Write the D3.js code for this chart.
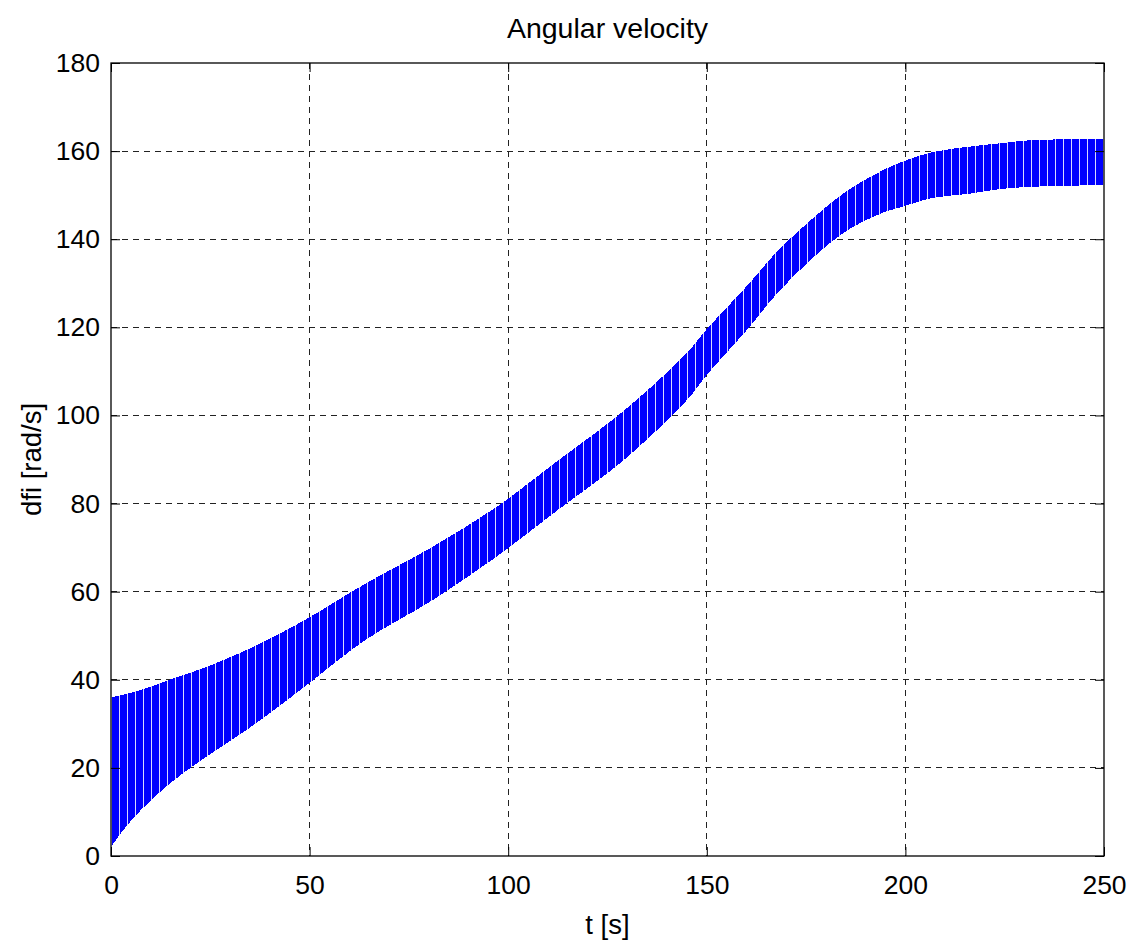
<!DOCTYPE html>
<html>
<head>
<meta charset="utf-8">
<script src="https://cdn.jsdelivr.net/npm/d3@7"></script>
<style>
  body { margin: 0; background: #fff; }
  text { font-family: "Liberation Sans", Arial, sans-serif; fill: #000; }
</style>
</head>
<body>
<svg id="chart" width="1132" height="940"></svg>
<script>
// envelope of the oscillating dfi signal
const time  = [0, 2.5, 7.5, 16, 24, 33, 41, 50, 64, 81, 97, 112, 129, 145, 150, 160, 168, 177, 185, 194, 199, 207, 216, 224, 232, 250]
const upper = [36, 36.5, 37.7, 40.4, 42.9, 46.3, 49.8, 54.2, 61.8, 70.2, 79.2, 89.4, 101, 114.2, 119.6, 129.3, 137.5, 145, 150.8, 155.5, 157.5, 159.8, 161, 161.8, 162.5, 162.7]
const lower = [2, 5.2, 10.4, 17.3, 22.5, 27.9, 33.1, 39.3, 49, 58.1, 67.9, 78.2, 89.8, 103.5, 109.2, 119.3, 128, 136, 141.8, 145.9, 147.3, 149.4, 150.3, 151.4, 151.9, 152.3]

const xTicks = [0, 50, 100, 150, 200, 250]
const yTicks = [0, 20, 40, 60, 80, 100, 120, 140, 160, 180]

const pL = 111, pR = 1104, pT = 63, pB = 856

let svg = d3.select("#chart")

let x = d3.scaleLinear().domain([0, 250]).range([pL, pR])
let y = d3.scaleLinear().domain([0, 180]).range([pB, pT])

// stripes to imitate the dense vertical strokes
let defs = svg.append("defs")
let pat = defs.append("pattern")
    .attr("id", "stripes")
    .attr("patternUnits", "userSpaceOnUse")
    .attr("width", 8).attr("height", 10)
pat.append("rect").attr("width", 8).attr("height", 10).attr("fill", "#0000ff")
pat.append("rect").attr("x", 7).attr("width", 1).attr("height", 10)
    .attr("fill", "#ffffff").attr("opacity", 0.85)

// grid
let grid = svg.append("g").attr("stroke", "#222").attr("stroke-width", 1)
    .attr("stroke-dasharray", "6,5").attr("shape-rendering", "crispEdges")
xTicks.slice(1, -1).forEach(t => {
  grid.append("line").attr("x1", x(t)).attr("x2", x(t)).attr("y1", pT).attr("y2", pB)
})
yTicks.slice(1, -1).forEach(v => {
  grid.append("line").attr("x1", pL).attr("x2", pR).attr("y1", y(v)).attr("y2", y(v))
})

// band
let band = time.map((t, i) => ({t: t, hi: upper[i], lo: lower[i]}))
svg.append("path")
    .datum(band)
    .attr("fill", "url(#stripes)")
    .attr("shape-rendering", "crispEdges")
    .attr("d", d3.area()
        .x(d => x(d.t))
        .y0(d => y(d.lo))
        .y1(d => y(d.hi))
        .curve(d3.curveCatmullRom.alpha(0.5)))

// axes
let fs = "26.5px"
svg.append("g").attr("transform", "translate(0," + pB + ")")
    .call(d3.axisBottom(x).tickValues(xTicks).tickSizeInner(-9).tickSizeOuter(0).tickPadding(19))
svg.append("g").attr("transform", "translate(" + pL + ",0)")
    .call(d3.axisLeft(y).tickValues(yTicks).tickSizeInner(-9).tickSizeOuter(0).tickPadding(11))
svg.append("g").attr("transform", "translate(0," + pT + ")")
    .call(d3.axisTop(x).tickValues(xTicks).tickSizeInner(-9).tickSizeOuter(0).tickFormat(""))
svg.append("g").attr("transform", "translate(" + pR + ",0)")
    .call(d3.axisRight(y).tickValues(yTicks).tickSizeInner(-9).tickSizeOuter(0).tickFormat(""))

svg.selectAll(".tick text").style("font-size", fs).attr("fill", "#000")
svg.selectAll(".tick line").attr("stroke", "#000")
svg.selectAll(".domain").remove()

// box
svg.append("rect")
    .attr("x", pL).attr("y", pT)
    .attr("width", pR - pL).attr("height", pB - pT)
    .attr("fill", "none").attr("stroke", "#000").attr("stroke-width", 1.3)

// labels
svg.append("text")
    .attr("x", (pL + pR) / 2).attr("y", 38)
    .attr("text-anchor", "middle").style("font-size", "28.5px")
    .text("Angular velocity")
svg.append("text")
    .attr("x", (pL + pR) / 2).attr("y", 934)
    .attr("text-anchor", "middle").style("font-size", "27.5px")
    .text("t [s]")
svg.append("text")
    .attr("transform", "translate(41," + (pT + pB) / 2 + ") rotate(-90)")
    .attr("text-anchor", "middle").style("font-size", "27.5px")
    .text("dfi [rad/s]")
</script>
</body>
</html>
